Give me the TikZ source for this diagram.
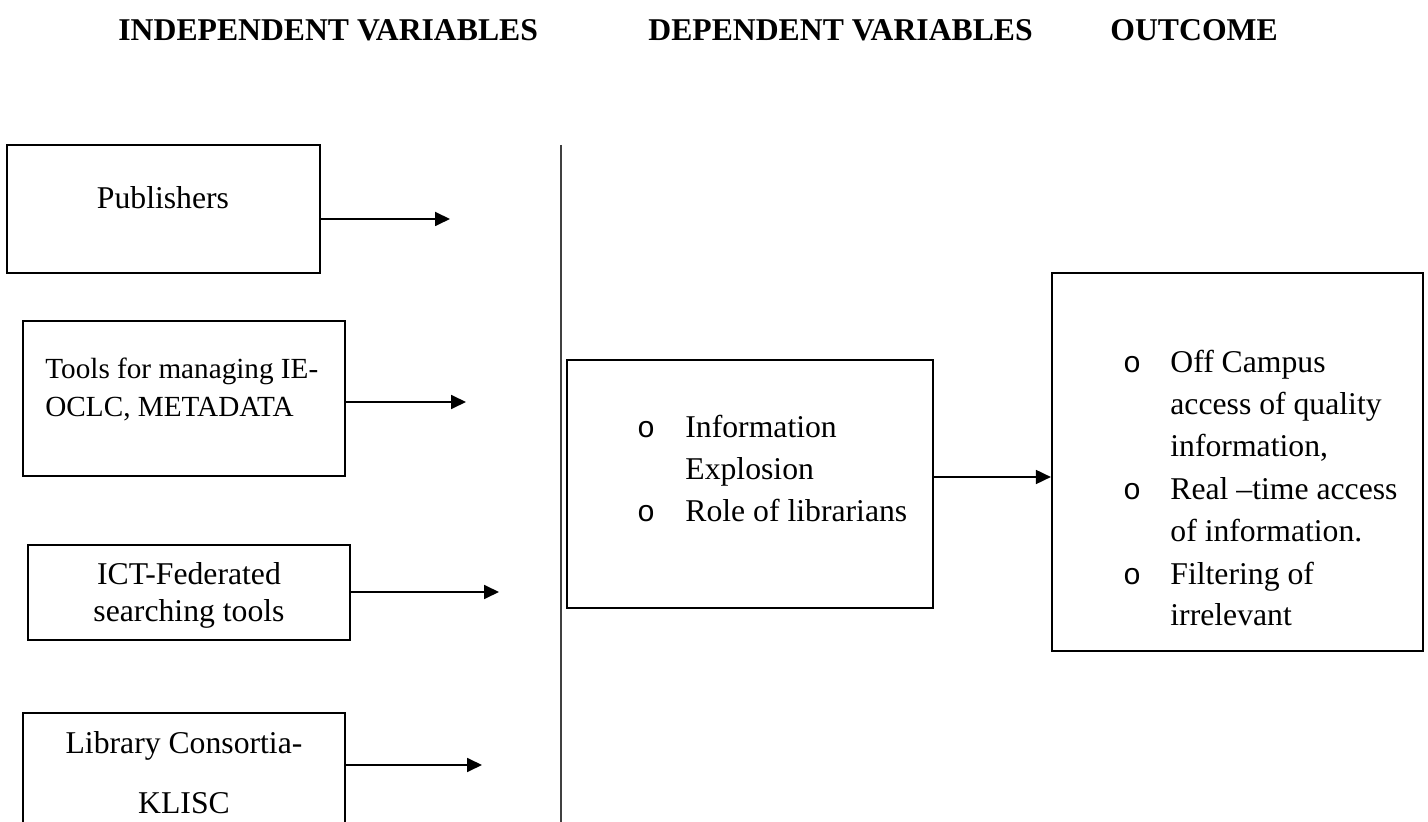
\documentclass[tikz,border=0pt]{standalone}
\usepackage{fontspec}
\setmainfont{Liberation Serif}
\newfontfamily\bulletfont{Liberation Mono}
\usetikzlibrary{arrows.meta,fit}
\begin{document}
\begin{tikzpicture}[x=0.5pt,y=-0.5pt,
  box/.style={draw,line width=1.1pt,inner sep=0pt},
  txt/.style={inner sep=0pt,anchor=base,font=\fontsize{15.85}{18}\selectfont},
  ltxt/.style={inner sep=0pt,anchor=base west,font=\fontsize{15.85}{18}\selectfont},
  stxt/.style={inner sep=0pt,anchor=base west,font=\fontsize{14.6}{17}\selectfont},
  bul/.style={inner sep=0pt,anchor=base,font=\fontsize{15}{18}\bulletfont},
  hdr/.style={inner sep=0pt,anchor=base west,font=\fontsize{15.85}{18}\selectfont\bfseries},
  arr/.style={line width=0.9pt,-{Triangle[length=7.5pt,width=7pt]}},
  sep/.style={line width=0.6pt,draw=black!75}
]
\useasboundingbox (0,0) rectangle (1428,822);

% headers
\node[hdr] (h1) at (118,41) {INDEPENDENT VARIABLES};
\node[hdr] (h2) at (648,41) {DEPENDENT VARIABLES};
\node[hdr] (h3) at (1110,41) {OUTCOME};

% separator line
\coordinate (s1) at (561,145);
\coordinate (s2) at (561,830);
\draw[sep] (s1) -- (s2);

% left boxes
\node[box,fit={(7,145) (320,273)}] (pub) {};
\node[txt] (pubt) at (163,209) {Publishers};

\node[box,fit={(23,321) (345,476)}] (tools) {};
\node[stxt] (toolst1) at (45,379) {Tools for managing IE-};
\node[stxt] (toolst2) at (45,417) {OCLC, METADATA};

\node[box,fit={(28,545) (350,640)}] (ict) {};
\node[txt] (ictt1) at (189,585) {ICT-Federated};
\node[txt] (ictt2) at (189,622) {searching tools};

\node[box,fit={(23,713) (345,850)}] (lib) {};
\node[txt] (libt1) at (184,753) {Library Consortia-};
\node[txt] (libt2) at (184,813) {KLISC};

% arrows from left boxes
\coordinate (t1) at (450,219);
\coordinate (t2) at (466,402);
\coordinate (t3) at (499,592);
\coordinate (t4) at (482,765);
\draw[arr] (pub.east |- t1) -- (t1);
\draw[arr] (tools.east |- t2) -- (t2);
\draw[arr] (ict.east |- t3) -- (t3);
\draw[arr] (lib.east |- t4) -- (t4);

% middle box
\node[box,fit={(567,360) (933,608)}] (mid) {};
\node[bul] (mb1) at (646,438) {o};
\node[ltxt] (mt1) at (685,438) {Information};
\node[ltxt] (mt2) at (685,480) {Explosion};
\node[bul] (mb2) at (646,522) {o};
\node[ltxt] (mt3) at (685,522) {Role of librarians};

% right box
\node[box,fit={(1052,273) (1423,651)}] (out) {};
\node[bul] (ob1) at (1132,373) {o};
\node[ltxt] (ot1) at (1170,373) {Off Campus};
\node[ltxt] (ot2) at (1170,415) {access of quality};
\node[ltxt] (ot3) at (1170,457) {information,};
\node[bul] (ob2) at (1132,500) {o};
\node[ltxt] (ot4) at (1170,500) {Real –time access};
\node[ltxt] (ot5) at (1170,542) {of information.};
\node[bul] (ob3) at (1132,585) {o};
\node[ltxt] (ot6) at (1170,585) {Filtering of};
\node[ltxt] (ot7) at (1170,625) {irrelevant};

% arrow middle -> outcome
\coordinate (t5) at (1052,477);
\draw[arr] (mid.east |- t5) -- (out.west |- t5);
\end{tikzpicture}
\end{document}
